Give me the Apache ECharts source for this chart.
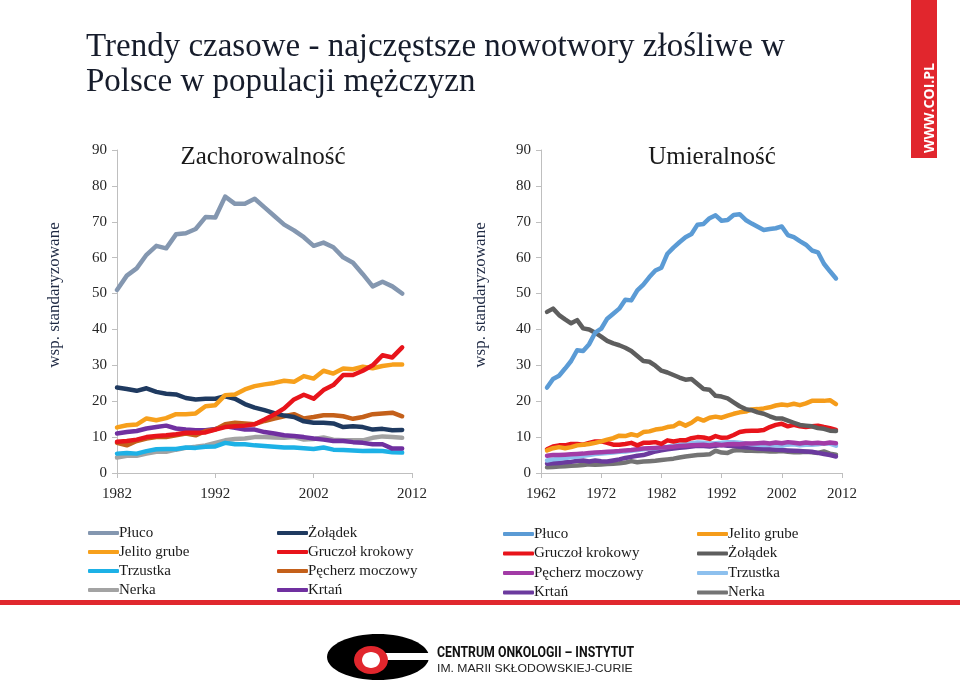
<!DOCTYPE html>
<html><head><meta charset="utf-8">
<script src="https://cdn.jsdelivr.net/npm/echarts@6/dist/echarts.min.js"></script>
<style>html,body{margin:0;padding:0;background:#fff}#c{width:960px;height:689px}</style>
</head><body><div id="c"></div>
<script>
// ---------- Data: Zachorowalność (incidence), 1982-2011 ----------
const yearsInc = [1982,1983,1984,1985,1986,1987,1988,1989,1990,1991,1992,1993,1994,1995,1996,1997,1998,1999,2000,2001,2002,2003,2004,2005,2006,2007,2008,2009,2010,2011];
const incPluco   = [51,55,57,60.8,63.3,62.6,66.5,66.8,68,71.3,71.2,77,75,75,76.4,74,71.6,69.2,67.6,65.7,63.3,64.2,62.9,60.1,58.6,55.4,52,53.3,52,50];
const incJelito  = [12.7,13.3,13.5,15.2,14.7,15.3,16.4,16.4,16.6,18.6,18.9,21.7,21.9,23.3,24.2,24.7,25.1,25.7,25.4,27.0,26.3,28.5,27.7,29.1,28.9,29.6,29.2,29.8,30.2,30.2];
const incTrzustka= [5.4,5.6,5.4,6.1,6.6,6.7,6.7,7.1,7.0,7.3,7.4,8.4,8.0,8.0,7.7,7.5,7.3,7.1,7.1,6.9,6.7,7.1,6.5,6.4,6.3,6.1,6.2,6.1,5.8,5.7];
const incNerka   = [4.3,4.8,4.8,5.4,5.9,5.9,6.5,7.0,7.3,7.7,8.4,9.1,9.5,9.6,10.0,10.0,9.9,9.8,10.0,9.3,9.5,9.9,9.3,9.1,9.1,9.1,9.8,10.2,10.0,9.8];
const incZoladek = [23.8,23.4,22.9,23.6,22.6,22.1,21.9,20.9,20.5,20.7,20.7,21.4,20.7,19.2,18.2,17.5,16.7,16.0,15.6,14.4,14.0,14.0,13.8,12.8,13.0,12.8,12.1,12.3,11.9,12.0];
const incGruczol = [8.7,8.9,9.3,10,10.3,10.5,10.8,11.2,11.2,11.3,12.1,12.8,13.0,13.2,13.6,14.9,16.3,18.0,20.5,21.8,20.7,23.1,24.5,27.3,27.3,28.5,30.0,32.8,32.2,35.0];
const incPecherz = [8.4,7.7,8.9,9.6,10,10,10.5,11,10.5,11.7,12.1,13.6,14,13.8,13.6,14.5,15.2,15.8,16.4,15.2,15.6,16.1,16.1,15.8,15.1,15.6,16.4,16.6,16.8,15.8];
const incKrtan   = [11,11.4,11.7,12.4,12.8,13.2,12.4,12.1,11.9,11.9,12.3,13.0,12.6,12.1,12.1,11.4,11.0,10.5,10.3,10.0,9.6,9.3,8.9,8.9,8.6,8.4,8.0,8.0,6.8,6.8];

// ---------- Data: Umieralność (mortality), 1963-2011 ----------
const yearsMort = [1963,1964,1965,1966,1967,1968,1969,1970,1971,1972,1973,1974,1975,1976,1977,1978,1979,1980,1981,1982,1983,1984,1985,1986,1987,1988,1989,1990,1991,1992,1993,1994,1995,1996,1997,1998,1999,2000,2001,2002,2003,2004,2005,2006,2007,2008,2009,2010,2011];
const mortPluco   = [23.8,26.2,27.1,29.1,31.2,34.2,34.0,35.9,39.1,40.2,43.0,44.4,45.8,48.3,48.1,50.9,52.5,54.6,56.4,57.2,61.1,62.8,64.3,65.7,66.6,69.2,69.4,71.0,71.8,70.3,70.5,71.9,72.1,70.5,69.5,68.6,67.7,68.0,68.2,68.7,66.3,65.7,64.6,63.6,62.0,61.5,58.3,56.2,54.2];
const mortJelito  = [6.3,6.9,7.2,6.9,7.2,7.7,7.9,8.1,8.4,8.8,9.3,9.7,10.4,10.3,10.8,10.4,11.4,11.6,12.1,12.3,12.8,13.0,14.0,13.2,14.0,15.2,14.6,15.4,15.7,15.4,16.0,16.5,16.9,17.1,17.7,17.8,18.0,18.3,18.8,19.1,18.9,19.3,18.9,19.4,20.1,20.1,20.1,20.3,19.2];
const mortGruczol = [6.6,7.4,7.7,7.7,8.1,8.1,7.9,8.4,8.8,8.8,8.4,7.9,7.9,8.1,8.4,7.7,8.4,8.4,8.6,8.1,9.1,8.8,9.1,9.1,9.7,10.0,9.9,9.5,10.3,9.8,9.9,10.6,11.4,11.7,11.8,11.8,12.0,12.8,13.4,13.7,13.0,13.4,13.0,12.8,13.0,13.2,12.8,12.5,12.0];
const mortZoladek = [44.9,45.8,44.0,42.8,41.7,42.6,40.3,40.0,39.1,38.0,36.8,36.1,35.6,34.9,34.0,32.6,31.2,31.0,29.9,28.5,28.0,27.3,26.6,26.0,26.2,24.8,23.4,23.2,21.5,21.3,20.8,19.7,18.6,17.8,17.5,16.9,16.5,15.8,15.2,15.2,14.6,14.0,13.4,13.2,13.0,12.5,12.3,11.8,11.7];
const mortPecherz = [4.8,5.0,5.0,5.1,5.2,5.3,5.4,5.6,5.7,5.8,5.9,6.0,6.1,6.3,6.4,6.6,6.8,6.9,7.0,7.1,7.2,7.3,7.5,7.6,7.7,7.8,7.9,7.7,8.0,7.8,8.0,8.1,8.0,8.2,8.2,8.3,8.4,8.2,8.5,8.3,8.6,8.4,8.2,8.5,8.3,8.4,8.2,8.5,8.3];
const mortTrzustka= [3.5,3.8,4.0,4.2,4.4,4.6,4.8,5.0,5.3,5.4,5.6,5.7,5.9,6.0,6.2,6.4,6.6,6.8,6.9,7.1,7.3,7.6,7.9,8.1,8.3,8.5,8.4,8.2,8.3,8.4,8.6,8.6,8.4,8.2,8.0,7.9,7.8,7.8,7.7,7.6,7.9,8.0,7.7,7.9,7.9,8.0,8.3,8.2,7.6];
const mortKrtan   = [2.6,2.7,2.8,3.0,3.1,3.4,3.5,3.2,3.5,3.3,3.2,3.5,3.8,4.2,4.5,4.8,5.0,5.5,6.0,6.3,6.6,6.8,7.0,7.2,7.4,7.6,7.5,7.4,7.6,7.8,7.6,7.5,7.3,7.2,7.0,6.8,6.7,6.6,6.5,6.4,6.3,6.2,6.1,6.0,5.9,5.6,5.3,5.0,4.6];
const mortNerka   = [1.6,1.7,1.8,1.9,2.0,2.1,2.2,2.4,2.3,2.4,2.5,2.6,2.7,2.9,3.3,3.0,3.2,3.3,3.4,3.6,3.8,4.0,4.3,4.6,4.8,5.0,5.1,5.2,6.2,5.7,5.6,6.3,6.4,6.2,6.2,6.1,6.1,6.0,6.0,6.1,5.9,5.8,5.8,5.9,5.8,5.6,6.0,5.4,5.1];

const yAxisName = 'wsp. standaryzowane';

const SERIF = '"Liberation Serif", "DejaVu Serif", serif';
const pair = (xs, ys) => xs.map((x, i) => [x, ys[i]]);

function line(id, name, xs, ys, color, gi) {
  return { id: id, name: name, type: 'line', xAxisIndex: gi, yAxisIndex: gi,
    data: pair(xs, ys), showSymbol: false, symbol: 'none', smooth: false,
    lineStyle: { color: color, width: 4.5, cap: 'round', join: 'round' },
    itemStyle: { color: color }, emphasis: { disabled: true }, silent: true };
}

const series = [
  line('zp','Z|Płuco', yearsInc, incPluco, '#8497b0', 0),
  line('zn','Z|Nerka', yearsInc, incNerka, '#a3a3a3', 0),
  line('zt','Z|Trzustka', yearsInc, incTrzustka, '#1db1e6', 0),
  line('zk','Z|Krtań', yearsInc, incKrtan, '#7030a0', 0),
  line('zpe','Z|Pęcherz moczowy', yearsInc, incPecherz, '#c4601a', 0),
  line('zz','Z|Żołądek', yearsInc, incZoladek, '#1f3a60', 0),
  line('zj','Z|Jelito grube', yearsInc, incJelito, '#f7a01c', 0),
  line('zg','Z|Gruczoł krokowy', yearsInc, incGruczol, '#e8141b', 0),

  line('un','U|Nerka', yearsMort, mortNerka, '#747474', 1),
  line('uk','U|Krtań', yearsMort, mortKrtan, '#6b3a9e', 1),
  line('ut','U|Trzustka', yearsMort, mortTrzustka, '#8dc0ee', 1),
  line('upe','U|Pęcherz moczowy', yearsMort, mortPecherz, '#a23ba6', 1),
  line('ug','U|Gruczoł krokowy', yearsMort, mortGruczol, '#e8141b', 1),
  line('uj','U|Jelito grube', yearsMort, mortJelito, '#f59c1a', 1),
  line('uz','U|Żołądek', yearsMort, mortZoladek, '#5e5e5e', 1),
  line('up','U|Płuco', yearsMort, mortPluco, '#5b9bd5', 1)
];

function legend(left, top, names, gap) {
  return { left: left, top: top, orient: 'vertical', data: names, selectedMode: false,
    icon: 'roundRect', itemWidth: 31, itemHeight: 4, itemGap: gap, padding: 0,
    formatter: n => n.split('|')[1],
    textStyle: { fontFamily: SERIF, fontSize: 15, color: '#1a1a1a', lineHeight: 18, padding: [0,0,0,-5] } };
}

function yAx(gi) {
  return { type: 'value', gridIndex: gi, min: 0, max: 90, interval: 10,
    axisLine: { show: true, lineStyle: { color: '#bfbfbf', width: 1 } },
    axisTick: { show: true, length: 5, lineStyle: { color: '#bfbfbf' } },
    splitLine: { show: false },
    axisLabel: { fontFamily: SERIF, fontSize: 15, color: '#262626', margin: 10 } };
}
function xAx(gi, min) {
  return { type: 'value', gridIndex: gi, min: min, max: 2012, interval: 10,
    axisLine: { show: true, lineStyle: { color: '#bfbfbf', width: 1 } },
    axisTick: { show: true, length: 5, lineStyle: { color: '#bfbfbf' } },
    splitLine: { show: false },
    axisLabel: { fontFamily: SERIF, fontSize: 15, color: '#262626', margin: 14, formatter: v => String(v) } };
}

const chart = echarts.init(document.getElementById('c'), null, { renderer: 'canvas' });
chart.setOption({
  backgroundColor: '#ffffff',
  animation: false,
  title: [
    { text: 'Trendy czasowe - najczęstsze nowotwory złośliwe w\nPolsce w populacji mężczyzn', left: 86, top: 30, padding: 0,
      textStyle: { fontFamily: SERIF, fontSize: 33, fontWeight: 'normal', color: '#161c2b', lineHeight: 35 } },
    { text: 'Zachorowalność', left: 263, top: 145, textAlign: 'center', padding: 0,
      textStyle: { fontFamily: SERIF, fontSize: 25, fontWeight: 'normal', color: '#1a1a1a' } },
    { text: 'Umieralność', left: 712, top: 145, textAlign: 'center', padding: 0,
      textStyle: { fontFamily: SERIF, fontSize: 25, fontWeight: 'normal', color: '#1a1a1a' } }
  ],
  grid: [
    { left: 117, right: 548, top: 150, bottom: 216, containLabel: false },
    { left: 541, right: 118, top: 150, bottom: 216, containLabel: false }
  ],
  xAxis: [ xAx(0, 1982), xAx(1, 1962) ],
  yAxis: [ yAx(0), yAx(1) ],
  legend: [
    legend(88, 524, ['Z|Płuco','Z|Jelito grube','Z|Trzustka','Z|Nerka'], 1),
    legend(277, 524, ['Z|Żołądek','Z|Gruczoł krokowy','Z|Pęcherz moczowy','Z|Krtań'], 1),
    legend(503, 525, ['U|Płuco','U|Gruczoł krokowy','U|Pęcherz moczowy','U|Krtań'], 1.5),
    legend(697, 525, ['U|Jelito grube','U|Żołądek','U|Trzustka','U|Nerka'], 1.5)
  ],
  series: series,
  graphic: [
    { type: 'text', x: 55, y: 295, rotation: Math.PI / 2,
      style: { text: yAxisName, fill: '#1f2a44', font: '17px ' + SERIF, textAlign: 'center', textVerticalAlign: 'middle' }, silent: true },
    { type: 'text', x: 481, y: 295, rotation: Math.PI / 2,
      style: { text: yAxisName, fill: '#1f2a44', font: '17px ' + SERIF, textAlign: 'center', textVerticalAlign: 'middle' }, silent: true },
    { type: 'rect', shape: { x: 911, y: 0, width: 26, height: 158 }, style: { fill: '#e1262d' }, silent: true },
    { type: 'text', x: 930, y: 108, rotation: Math.PI / 2,
      style: { text: 'WWW.COI.PL', fill: '#ffffff', font: 'bold 14px "Open Sans", "Liberation Sans", sans-serif',
        textAlign: 'center', textVerticalAlign: 'middle' }, silent: true },
    { type: 'rect', shape: { x: 0, y: 600, width: 960, height: 5 }, style: { fill: '#e0282e' }, silent: true },
    { type: 'ellipse', shape: { cx: 378, cy: 657, rx: 51, ry: 23 }, style: { fill: '#000000' }, silent: true },
    { type: 'rect', shape: { x: 384, y: 653, width: 50, height: 7 }, style: { fill: '#ffffff' }, silent: true },
    { type: 'ellipse', shape: { cx: 371, cy: 660, rx: 17, ry: 14 }, style: { fill: '#e1262d' }, silent: true },
    { type: 'ellipse', shape: { cx: 371, cy: 660, rx: 9, ry: 8 }, style: { fill: '#ffffff' }, silent: true },
    { type: 'text', x: 437, y: 653, scaleX: 0.82, style: { text: 'CENTRUM ONKOLOGII – INSTYTUT', fill: '#111111',
        font: 'bold 15px "Liberation Sans Narrow", "Roboto", sans-serif', textVerticalAlign: 'middle' }, silent: true },
    { type: 'text', x: 437, y: 669, scaleX: 1.06, style: { text: 'IM. MARII SKŁODOWSKIEJ-CURIE', fill: '#222222',
        font: '11.5px "Liberation Sans", "Roboto", sans-serif', textVerticalAlign: 'middle' }, silent: true }
  ]
});
</script></body></html>
